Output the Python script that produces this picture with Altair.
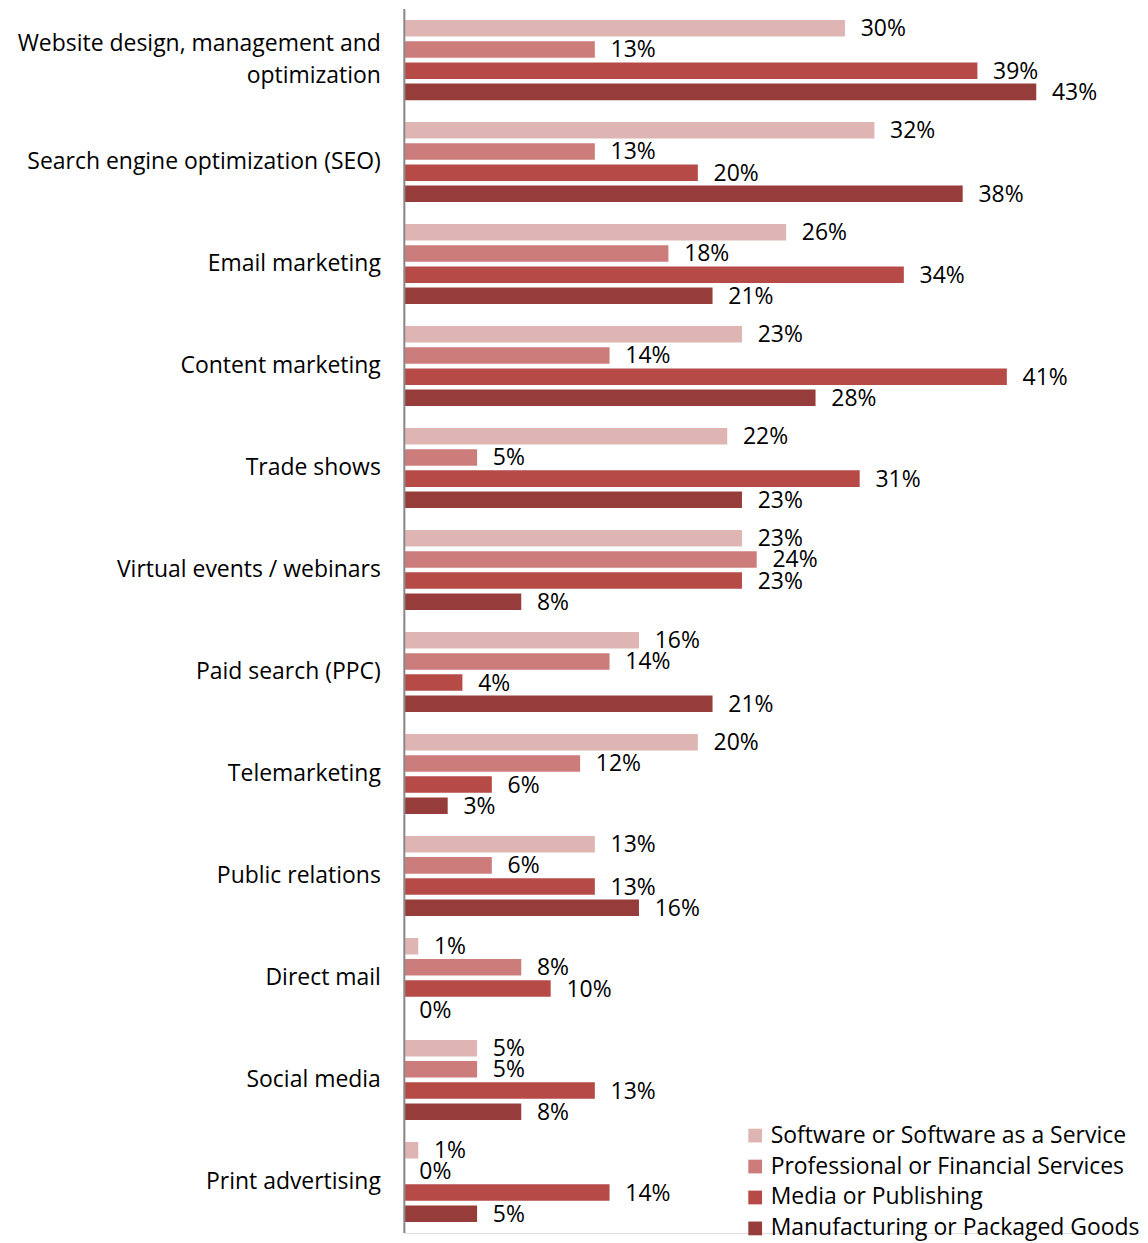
import altair as alt
import pandas as pd

categories = [
    "Website design, management and|optimization",
    "Search engine optimization (SEO)",
    "Email marketing",
    "Content marketing",
    "Trade shows",
    "Virtual events / webinars",
    "Paid search (PPC)",
    "Telemarketing",
    "Public relations",
    "Direct mail",
    "Social media",
    "Print advertising",
]
series = [
    "Software or Software as a Service",
    "Professional or Financial Services",
    "Media or Publishing",
    "Manufacturing or Packaged Goods",
]
software = [30, 32, 26, 23, 22, 23, 16, 20, 13, 1, 5, 1]
professional = [13, 13, 18, 14, 5, 24, 14, 12, 6, 8, 5, 0]
media = [39, 20, 34, 41, 31, 23, 4, 6, 13, 10, 13, 14]
manufacturing = [43, 38, 21, 28, 23, 8, 21, 3, 16, 0, 8, 5]
colors = ["#DFB5B4", "#CC7C7A", "#B54A47", "#963C3A"]

rows = []
for i, c in enumerate(categories):
    for s, vals in zip(series, [software, professional, media, manufacturing]):
        rows.append({"category": c, "series": s, "value": vals[i], "label": f"{vals[i]}%"})
df = pd.DataFrame(rows)

FONT = "Open Sans"
FS = 23
W = 737
H = 1226

y_enc = alt.Y(
    "category:N",
    sort=categories,
    scale=alt.Scale(paddingInner=0.2, paddingOuter=0.1),
    axis=alt.Axis(
        title=None,
        labelExpr="split(datum.label, '|')",
        labelOffset=alt.ExprRef("indexof(datum.value, '|') >= 0 ? -16 : 0"),
        labelFont=FONT,
        labelFontSize=FS,
        labelColor="#000000",
        labelPadding=24,
        labelLineHeight=32,
        ticks=False,
        grid=False,
        domain=False,
        labelLimit=420,
    ),
)
yoff = alt.YOffset("series:N", sort=series, scale=alt.Scale(paddingInner=0.15))
x_enc = alt.X("value:Q", scale=alt.Scale(domain=[0, 50]), axis=None)

bars = alt.Chart(df).mark_bar(stroke="white", strokeWidth=1.5).encode(
    x=x_enc,
    y=y_enc,
    yOffset=yoff,
    color=alt.Color(
        "series:N",
        sort=series,
        scale=alt.Scale(domain=series, range=colors),
        legend=alt.Legend(
            title=None,
            orient="none",
            legendX=340,
            legendY=1117,
            symbolType="square",
            symbolSize=190,
            symbolStrokeWidth=0,
            labelFont=FONT,
            labelFontSize=FS,
            labelColor="#000000",
            rowPadding=7,
            labelOffset=4,
            labelLimit=500,
        ),
    ),
)

text = alt.Chart(df).mark_text(
    align="left", baseline="middle", dx=15, dy=1, font=FONT, fontSize=FS, color="#000000"
).encode(x=x_enc, y=y_enc, yOffset=yoff, text="label:N")

one = pd.DataFrame({"v": [0]})

top_mask = alt.Chart(one).mark_rule(color="white", strokeWidth=4).encode(
    x=alt.value(1), x2=alt.value(W + 2), y=alt.value(0)
)

axis_line = alt.Chart(one).mark_rule(color="#888888", strokeWidth=2).encode(
    x=alt.value(0), y=alt.value(0), y2=alt.value(H)
)

chart = (
    alt.layer(top_mask, bars, text, axis_line)
    .properties(
        width=W,
        height=H,
        autosize=alt.AutoSizeParams(type="none"),
        padding={"left": 397, "top": 0, "right": 0, "bottom": 8},
    )
    .configure_view(strokeWidth=0, stroke=None, fill=None)
    .configure_axis(grid=False, domain=False, ticks=False)
    .configure(background="white")
)

chart.save("out.html", embed_options={"renderer": "svg", "actions": False})
